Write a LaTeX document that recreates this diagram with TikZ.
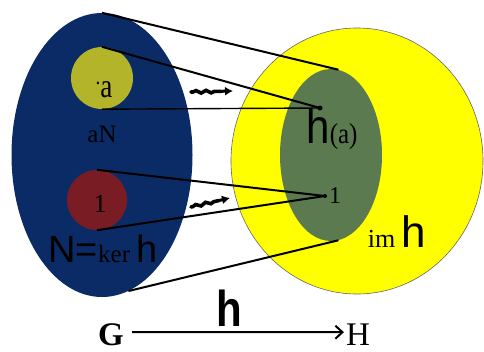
\documentclass[tikz,border=0pt]{standalone}
\usepackage{fontspec}
\setmainfont{Liberation Serif}
\newfontfamily\sansf{Liberation Sans}
\usetikzlibrary{shapes.geometric,decorations.pathmorphing,arrows.meta}
\definecolor{navy}{HTML}{0B2B66}
\definecolor{yel}{HTML}{FFFF00}
\definecolor{grn}{HTML}{5B7A50}
\definecolor{olv}{HTML}{B4B42A}
\definecolor{wine}{HTML}{7A1C24}
\newcommand{\fs}[1]{\fontsize{#1}{#1}\selectfont}
\tikzset{
  ln/.style={line width=2pt, draw=black},
  dotn/.style={circle, fill=black, inner sep=0pt, minimum size=5pt},
  txt/.style={inner sep=0pt, anchor=base, text=black},
  sq/.style={line width=3.6pt, line cap=round, decorate,
    decoration={snake, amplitude=1.3pt, segment length=10pt, pre length=2pt, post length=2pt}},
  sqtip/.style={line width=3pt, -{Latex[length=8pt,width=9pt]}},
  blob/.style={ellipse, inner sep=0pt},
}
\begin{document}
\begin{tikzpicture}[x=1pt,y=-1pt]
\useasboundingbox (0,0) rectangle (484,351);
\fill[white] (0,0) rectangle (484,351);
% sets
\node[blob, fill=navy, minimum width=181pt, minimum height=284pt] (G) at (102,155) {};
\node[blob, fill=yel, draw=black!60, line width=0.6pt, minimum width=252pt, minimum height=266pt] (H) at (357,161) {};
\node[blob, fill=grn, minimum width=102pt, minimum height=172pt] (I) at (331,155) {};
\node[circle, fill=olv, inner sep=0pt, minimum size=62pt] (ca) at (102,78) {};
\node[circle, fill=wine, inner sep=0pt, minimum size=60pt] (cr) at (97,200) {};
% points
\node[dotn] (pa) at (320,108) {};
\node[dotn, minimum size=4pt] (p1) at (325,196) {};
% connectors
\draw[ln] (G.north) -- (I.85);
\draw[ln] (ca.north) -- (pa.center);
\draw[ln, line width=1.4pt] (ca.south) -- (pa.center);
\draw[ln] (cr.north) -- (p1.center);
\draw[ln] (cr.south) -- (p1.center);
\draw[ln] (G.-79) -- (I.-85);
% squiggly arrows
\coordinate (s1a) at (191,92);
\coordinate (s1m) at (221,91.3);
\coordinate (s1b) at (233,91);
\coordinate (s2a) at (191,207);
\coordinate (s2m) at (219,200.5);
\coordinate (s2b) at (230,198);
\draw[sq] (s1a) -- (s1m);
\draw[sqtip] (s1m) -- (s1b);
\draw[sq] (s2a) -- (s2m);
\draw[sqtip] (s2m) -- (s2b);
% labels
\node[txt, xscale=0.8] (la) at (104,97) {\raisebox{13pt}{\fs{24}.}\fs{34}a};
\node[txt] (laN) at (102,142) {\fs{25}aN};
\node[txt] (l1) at (100,212) {\fs{26}1};
\node[txt] (lker) at (103,262) {{\sansf\fs{38}N=}{\fs{25}ker }{\sansf\fs{38}h}};
\node[txt, yscale=1.15] (lha) at (332,143) {{\sansf\fs{42}h}{\fs{25}(a)}};
\node[txt] (l1b) at (335,203) {\fs{24}1};
\node[txt] (lim) at (397,247) {{\fs{26}im }{\sansf\fs{44}h}};
% bottom map
\node[txt] (nG) at (111,345) {\fs{33}\bfseries G};
\node[txt] (nH) at (358,345) {\fs{33}H};
\draw[line width=2pt, -{Straight Barb[length=7pt,width=13pt]}] ([xshift=8pt,yshift=2pt]nG.east) -- ([xshift=-2pt,yshift=2pt]nH.west);
\node[txt, yscale=1.2] (lh) at (229,326) {\sansf\fs{42}\bfseries h};
\end{tikzpicture}
\end{document}
